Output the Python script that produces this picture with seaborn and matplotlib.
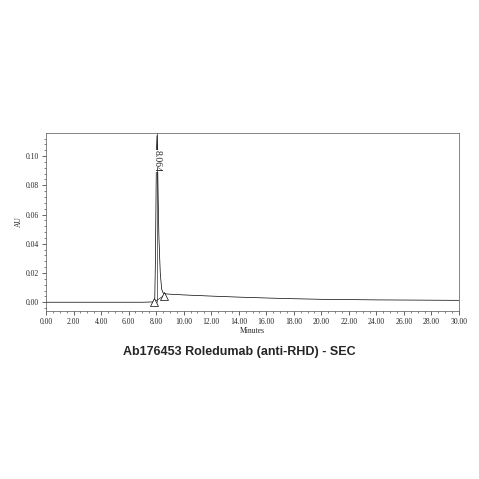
import matplotlib
matplotlib.use("Agg")
import matplotlib.pyplot as plt
import seaborn as sns
import numpy as np

# chromatogram trace
minutes = [0.0, 2.0, 4.0, 6.0, 7.0, 7.8, 7.9, 7.95, 8.0, 8.03, 8.064, 8.1, 8.15, 8.2, 8.3, 8.4, 8.5, 8.6, 9.0, 10.0, 12.0, 14.0, 16.0, 18.0, 20.0, 22.0, 24.0, 26.0, 28.0, 30.0]
au = [0.0, 0.0, 0.0, 0.0, 0.0, 0.0002, 0.002, 0.03, 0.08, 0.105, 0.114, 0.10, 0.07, 0.045, 0.02, 0.009, 0.0065, 0.0058, 0.0055, 0.005, 0.0042, 0.0035, 0.0029, 0.0024, 0.002, 0.0018, 0.0016, 0.0015, 0.0014, 0.0013]
baseline_x = [7.85, 8.55]
baseline_y = [0.0, 0.0045]
peak_rt = 8.064
peak_label = "8.064"

sns.set_style("ticks")
plt.rcParams['font.family'] = ['Liberation Serif', 'DejaVu Serif']

fig = plt.figure(figsize=(4.79, 4.79), dpi=100)
ax = fig.add_axes([46/479, 1 - 311/479, 413/479, 178/479])

sns.lineplot(x=minutes, y=au, ax=ax, color="black", linewidth=0.5)
ax.plot(baseline_x, baseline_y, color="black", linewidth=0.4)
ax.plot(baseline_x, baseline_y, linestyle="none", marker="^", markersize=6,
        markerfacecolor="white", markeredgecolor="black", markeredgewidth=0.5)
ax.axvline(peak_rt, ymin=0.05, ymax=1, color="black", linewidth=0.4)
ax.text(peak_rt, 0.104, peak_label, rotation=-90, ha="center", va="top", fontsize=7,
        bbox=dict(facecolor="white", edgecolor="none", pad=0))

ax.set_xlim(0, 30)
ax.set_ylim(-0.006, 0.1158)
ax.set_xticks(np.arange(0, 31, 2))
ax.set_xticklabels([f"{v:.2f}" for v in np.arange(0, 31, 2)], fontsize=5.5)
ax.set_xticks(np.arange(0, 30.1, 0.5), minor=True)
ax.set_yticks(np.arange(0, 0.11, 0.02))
ax.set_yticklabels([f"{v:.2f}" for v in np.arange(0, 0.11, 0.02)], fontsize=5.5)
ax.set_yticks(np.arange(-0.004, 0.115, 0.004), minor=True)
ax.tick_params(length=3, width=0.5, pad=2)
ax.tick_params(which="minor", length=1.5, width=0.4)
ax.set_xlabel("Minutes", fontsize=5.5, labelpad=1)
ax.set_ylabel("AU", fontsize=5.5, labelpad=2)
for s in ax.spines.values():
    s.set_linewidth(0.5)
    s.set_color("#555555")

fig.text(0.5, 1 - 352/479, "Ab176453 Roledumab (anti-RHD) - SEC", ha="center", va="center",
         fontsize=9, fontweight="bold", family=["Liberation Sans", "DejaVu Sans"])

fig.savefig("out.png", dpi=100, facecolor="white")
